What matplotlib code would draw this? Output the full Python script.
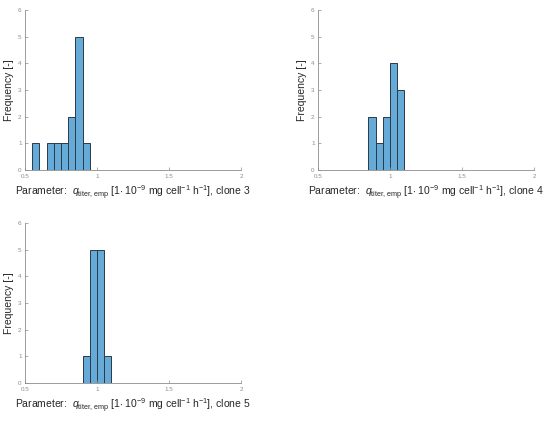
import numpy as np
import matplotlib

matplotlib.use("Agg")
import matplotlib.pyplot as plt

plt.rcParams["font.family"] = ["Liberation Sans", "DejaVu Sans"]
plt.rcParams["mathtext.fontset"] = "custom"
plt.rcParams["mathtext.rm"] = "Liberation Sans"
plt.rcParams["mathtext.it"] = "Liberation Sans:italic"

BAR_COLOR = "#66AAD7"
AXIS_COLOR = "#8C8C8C"

# bin edges (width 0.05) and counts per clone
edges3 = [0.55, 0.60, 0.65, 0.70, 0.75, 0.80, 0.85, 0.90, 0.95]
counts3 = [1, 0, 1, 1, 1, 2, 5, 1]
edges4 = [0.85, 0.90, 0.95, 1.00, 1.05, 1.10]
counts4 = [2, 1, 2, 4, 3]
edges5 = [0.90, 0.95, 1.00, 1.05, 1.10]
counts5 = [1, 5, 5, 1]

clones = [3, 4, 5]
xticks = [0.5, 1, 1.5, 2]
xticklabels = ["0.5", "1", "1.5", "2"]
yticks = [0, 1, 2, 3, 4, 5, 6]

W, H = 550, 422
# axes boxes in pixels: left, top, right, bottom
boxes = [(25, 10, 241, 170), (318, 10, 534, 170), (25, 223, 241, 383)]

fig = plt.figure(figsize=(5.5, 4.22), dpi=100)

for (l, t, r, b), edges, counts, clone in zip(
    boxes, [edges3, edges4, edges5], [counts3, counts4, counts5], clones
):
    ax = fig.add_axes([l / W, 1 - b / H, (r - l) / W, (b - t) / H])
    e = np.asarray(edges)
    c = np.asarray(counts)
    keep = c > 0
    ax.bar(e[:-1][keep], c[keep], width=np.diff(e)[keep], align="edge",
           color=BAR_COLOR, edgecolor="#2B3A47", linewidth=0.7)
    ax.set_xlim(0.5, 2)
    ax.set_ylim(0, 6)
    ax.set_xticks(xticks, xticklabels)
    ax.set_yticks(yticks)
    ax.tick_params(direction="in", length=2, width=0.5, labelsize=4.5,
                   colors=AXIS_COLOR)
    ax.tick_params(axis="x", pad=3)
    ax.tick_params(axis="y", pad=2.5)
    ax.spines["top"].set_visible(False)
    ax.spines["right"].set_visible(False)
    for s in ("left", "bottom"):
        ax.spines[s].set_color(AXIS_COLOR)
        ax.spines[s].set_linewidth(0.6)
    ax.set_ylabel("Frequency [-]", fontsize=7.5, color="#262626", labelpad=3)
    ax.set_xlabel(
        r"Parameter:  $\mathit{q}_{\mathrm{titer,emp}}$ [1$\cdot$ 10$^{-9}$ mg cell$^{-1}$ h$^{-1}$], clone "
        + str(clone),
        fontsize=7.5, color="#262626", labelpad=3,
    )

fig.savefig("out.png", dpi=100)
